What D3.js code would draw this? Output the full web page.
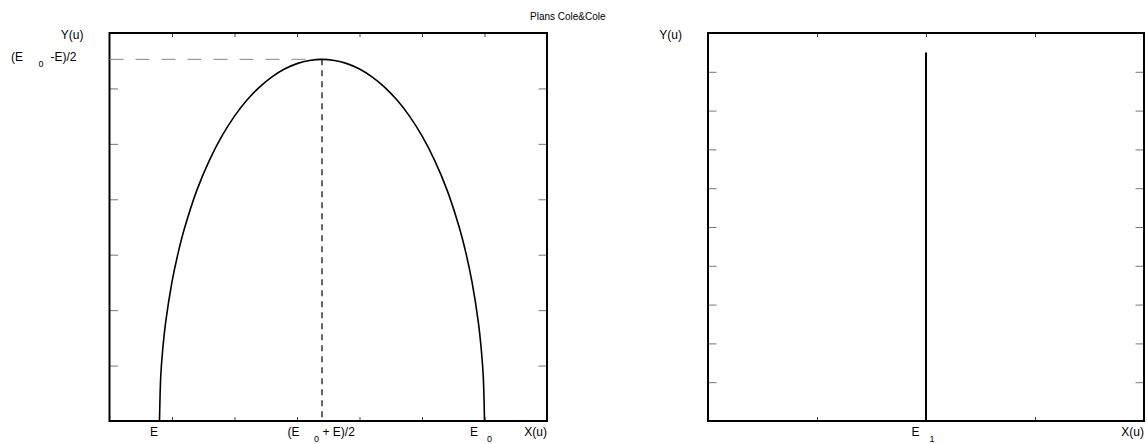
<!DOCTYPE html>
<html>
<head>
<meta charset="utf-8">
<script src="https://cdn.jsdelivr.net/npm/d3@7"></script>
<style>
  html, body { margin: 0; padding: 0; background: #fff; }
  svg { display: block; font-family: "Liberation Sans", Arial, sans-serif; }
</style>
</head>
<body>
<svg id="chart" width="1147" height="444"></svg>
<script>
// ---------------- data ----------------
const title = "Plans Cole&Cole";

// Left panel : Cole & Cole semicircle
const curveX = [0.80, 0.82, 0.85, 0.90, 1.00, 1.10, 1.20, 1.40, 1.60, 1.80, 2.00, 2.20, 2.40, 2.60, 2.80, 3.00, 3.20, 3.40,
                3.60, 3.80, 4.00, 4.20, 4.40, 4.60, 4.80, 5.00, 5.20, 5.40, 5.60, 5.70, 5.80, 5.90, 5.95, 5.98, 6.00];
const curveY = [0.000, 0.323, 0.509, 0.717, 1.004, 1.217, 1.391, 1.668, 1.883, 2.057, 2.200, 2.316, 2.410, 2.484, 2.540, 2.579, 2.602, 2.610,
                2.602, 2.579, 2.540, 2.484, 2.410, 2.316, 2.200, 2.057, 1.883, 1.668, 1.391, 1.217, 1.004, 0.717, 0.509, 0.323, 0.000];
const peakX = 3.4;
const peakY = 2.61;
const leftXDomain = [0, 7];
const leftYDomain = [0, 2.8];
const leftXTicks = [1, 2, 3, 4, 5, 6];
const leftYTicks = [0.4, 0.8, 1.2, 1.6, 2.0, 2.4];
const leftXLabelValues = [0.8, 3.4, 6.0];
const leftXLabelMain = ["E", "(E", "E"];
const leftXLabelSub = ["", "0", "0"];
const leftXLabelRest = ["", "+ E)/2", ""];
const leftYLabelMain = "(E";
const leftYLabelSub = "0";
const leftYLabelRest = "-E)/2";

// Right panel : single line at E1
const lineX = [2, 2];
const lineY = [0, 9.5];
const rightXDomain = [0, 4];
const rightYDomain = [0, 10];
const rightXTicks = [1, 2, 3];
const rightYTicks = [1, 2, 3, 4, 5, 6, 7, 8, 9];
const rightXLabelValues = [2];
const rightXLabelMain = ["E"];
const rightXLabelSub = ["1"];

const xAxisTitle = "X(u)";
const yAxisTitle = "Y(u)";

// ---------------- drawing ----------------
const svg = d3.select("#chart");
const FS = 12, FSUB = 9;
const plotTop = 33, plotBottom = 421;
const labelBase = 435.5, subDrop = 6;

svg.append("text").attr("x", 530).attr("y", 20)
  .attr("font-size", 10).attr("fill", "#000").text(title);

function panel(x0, x1, xDom, yDom, xTicks, yTicks) {
  const x = d3.scaleLinear().domain(xDom).range([x0, x1]);
  const y = d3.scaleLinear().domain(yDom).range([plotBottom, plotTop]);
  const g = svg.append("g");
  const ax = [
    [d3.axisBottom(x).tickValues(xTicks).tickSize(-4), `translate(0,${plotBottom})`, "#444"],
    [d3.axisTop(x).tickValues(xTicks).tickSize(-4), `translate(0,${plotTop})`, "#444"],
    [d3.axisLeft(y).tickValues(yTicks).tickSize(-8.5), `translate(${x0},0)`, "#777"],
    [d3.axisRight(y).tickValues(yTicks).tickSize(-8.5), `translate(${x1},0)`, "#777"]
  ];
  ax.forEach(([a, tr, col]) => {
    const ag = g.append("g").attr("transform", tr).call(a.tickFormat(""));
    ag.select(".domain").remove();
    ag.selectAll("line").attr("stroke", col).attr("stroke-width", 1);
    ag.selectAll("text").remove();
  });
  g.append("rect").attr("x", x0).attr("y", plotTop)
    .attr("width", x1 - x0).attr("height", plotBottom - plotTop)
    .attr("fill", "none").attr("stroke", "#000").attr("stroke-width", 2);
  g.append("text").attr("x", x0 - 26).attr("y", 39).attr("text-anchor", "end")
    .attr("font-size", FS).text(yAxisTitle);
  g.append("text").attr("x", x1).attr("y", labelBase).attr("text-anchor", "end")
    .attr("font-size", FS).text(xAxisTitle);
  return {x, y, g};
}

function subText(g, xStart, baseline, main, subX, sub, restX, rest) {
  g.append("text").attr("x", xStart).attr("y", baseline).attr("font-size", FS).text(main);
  if (sub) g.append("text").attr("x", subX).attr("y", baseline + subDrop).attr("font-size", FSUB).text(sub);
  if (rest) g.append("text").attr("x", restX).attr("y", baseline).attr("font-size", FS)
    .attr("xml:space", "preserve").text(rest);
}

// Left panel
const L = panel(109.5, 547, leftXDomain, leftYDomain, leftXTicks, leftYTicks);
const curvePts = curveX.map((v, i) => [v, curveY[i]]);
// guides
L.g.append("line").attr("x1", L.x(leftXDomain[0])).attr("x2", L.x(peakX))
  .attr("y1", L.y(peakY)).attr("y2", L.y(peakY))
  .attr("stroke", "#888").attr("stroke-width", 1).attr("stroke-dasharray", "14,12");
L.g.append("line").attr("x1", L.x(peakX)).attr("x2", L.x(peakX))
  .attr("y1", L.y(peakY)).attr("y2", L.y(0))
  .attr("stroke", "#000").attr("stroke-width", 1.2).attr("stroke-dasharray", "6,5");
L.g.append("path").datum(curvePts)
  .attr("d", d3.line().x(d => L.x(d[0])).y(d => L.y(d[1])).curve(d3.curveCatmullRom.alpha(0.5)))
  .attr("fill", "none").attr("stroke", "#000").attr("stroke-width", 1.6);

// left x labels
const lOff = [[-9.5, 0, 0], [-34.5, -8, 0.5], [-14.5, 2.5, 0]];
leftXLabelValues.forEach((v, i) => {
  const px = L.x(v);
  subText(L.g, px + lOff[i][0], labelBase, leftXLabelMain[i], px + lOff[i][1], leftXLabelSub[i], px + lOff[i][2], leftXLabelRest[i]);
});
// left y label at peak
{
  const py = L.y(peakY);
  subText(L.g, 11, py + 2, leftYLabelMain, 38.5, leftYLabelSub, 50.5, leftYLabelRest);
}

// Right panel
const R = panel(708, 1144, rightXDomain, rightYDomain, rightXTicks, rightYTicks);
R.g.append("path").datum(lineX.map((v, i) => [v, lineY[i]]))
  .attr("d", d3.line().x(d => R.x(d[0])).y(d => R.y(d[1])))
  .attr("fill", "none").attr("stroke", "#000").attr("stroke-width", 2);
rightXLabelValues.forEach((v, i) => {
  const px = R.x(v);
  subText(R.g, px - 14.5, labelBase, rightXLabelMain[i], px + 3.5, rightXLabelSub[i], 0, "");
});
</script>
</body>
</html>
